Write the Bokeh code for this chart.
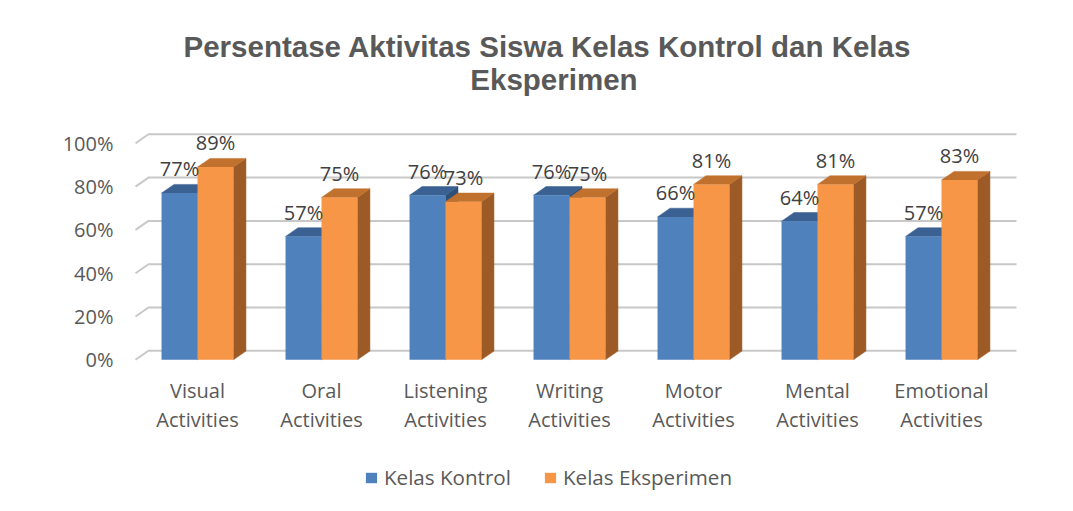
from bokeh.plotting import figure
from bokeh.layouts import column
from bokeh.models import Range1d, FixedTicker, NumeralTickFormatter, Title, Legend, LegendItem
from bokeh.core.properties import value
from bokeh.embed import file_html
from bokeh.resources import INLINE

# ---- data ----
categories = ["Visual Activities", "Oral Activities", "Listening Activities",
              "Writing Activities", "Motor Activities", "Mental Activities",
              "Emotional Activities"]
kontrol = [0.77, 0.57, 0.76, 0.76, 0.66, 0.64, 0.57]
eksperimen = [0.89, 0.75, 0.73, 0.75, 0.81, 0.81, 0.83]
y_ticks = [0.0, 0.2, 0.4, 0.6, 0.8, 1.0]
series_names = ["Kelas Kontrol", "Kelas Eksperimen"]
title_lines = ["Persentase Aktivitas Siswa Kelas Kontrol dan Kelas", "Eksperimen"]

# ---- layout / style constants ----
W, H1, H2 = 1057, 455, 40
PX_X = 124.0      # pixels per category
PX_Y = 216.5      # pixels per 100 %
BW = 0.29         # bar width (category units)
DX = 12.5 / PX_X  # bar depth, horizontal
DY = 8.7 / PX_Y   # bar depth, vertical
WDX = 13.0 / PX_X # back wall offset
WDY = 9.0 / PX_Y
LBL_OFF = 15.5 / PX_Y

ML, MT = 125, 118
FR_R, FR_B = 1030, 362
MR, MB = W - FR_R, H1 - FR_B
frame_w = FR_R - ML
frame_h = FR_B - MT
x0 = (ML - 197) / PX_X
y0 = -(FR_B - 359.3) / PX_Y

FONT = "Open Sans"
AX_COL = "#595959"
BLUE = ("#4f81bd", "#3a6191", "#2f5077")
ORANGE = ("#f79646", "#c0712e", "#9c5a27")

p = figure(width=W, height=H1, output_backend="svg", toolbar_location=None,
           x_range=Range1d(x0, x0 + frame_w / PX_X),
           y_range=Range1d(y0, y0 + frame_h / PX_Y),
           min_border_left=ML, min_border_right=MR,
           min_border_top=MT, min_border_bottom=MB)
p.title.visible = False
p.outline_line_color = None
p.xgrid.visible = False
p.ygrid.visible = False
p.background_fill_color = "white"
p.border_fill_color = "white"

n = len(categories)
idx = list(range(n))

# back-wall gridlines (with slanted floor part at left)
gx = [[-0.5, -0.5 + WDX, (n - 0.5) + WDX] for _ in y_ticks]
gy = [[t, t + WDY, t + WDY] for t in y_ticks]
p.multi_line(gx, gy, line_color="#c8c8c8", line_width=2)

def draw_series(vals, offset, cols):
    front, top, side = cols
    xs_side = [[i + offset + BW, i + offset + BW + DX, i + offset + BW + DX, i + offset + BW] for i in idx]
    ys_side = [[0, DY, v + DY, v] for v in vals]
    p.patches(xs_side, ys_side, fill_color=side, line_color=side, line_width=0.5)
    xs_top = [[i + offset, i + offset + BW, i + offset + BW + DX, i + offset + DX] for i in idx]
    ys_top = [[v, v, v + DY, v + DY] for v in vals]
    p.patches(xs_top, ys_top, fill_color=top, line_color=top, line_width=0.5)
    p.vbar(x=[i + offset + BW / 2 for i in idx], width=BW, top=vals, bottom=0,
           fill_color=front, line_color=None)

draw_series(kontrol, -BW, BLUE)
draw_series(eksperimen, 0.0, ORANGE)

# data labels
for vals, off in ((kontrol, -BW), (eksperimen, 0.0)):
    p.text(x=[i + off + BW / 2 for i in idx], y=[v + DY + LBL_OFF for v in vals],
           text=[f"{round(v * 100)}%" for v in vals],
           text_align="center", text_baseline="middle",
           text_font=value(FONT), text_font_size="20px", text_color="#404040")

# axes
p.yaxis.ticker = FixedTicker(ticks=y_ticks)
p.yaxis.formatter = NumeralTickFormatter(format="0%")
p.xaxis.ticker = FixedTicker(ticks=idx)
p.xaxis.major_label_overrides = {i: c.replace(" ", "\n") for i, c in enumerate(categories)}
for ax in (p.xaxis[0], p.yaxis[0]):
    ax.axis_line_color = None
    ax.major_tick_line_color = None
    ax.minor_tick_line_color = None
    ax.major_tick_out = 0
    ax.major_tick_in = 0
    ax.minor_tick_out = 0
    ax.major_label_text_font = FONT
    ax.major_label_text_font_size = "20px"
    ax.major_label_text_color = AX_COL
p.yaxis.major_label_standoff = 12
p.xaxis.major_label_standoff = 14
p.xaxis.major_label_text_line_height = 1.1

# title: two lines in one box; second line centred with non-breaking spaces
title_text = title_lines[0] + "\n" + "\u00a0" * 35 + title_lines[1]
p.add_layout(Title(text=title_text, align="left", offset=183 - ML, standoff=46,
                   text_line_height=1.0,
                   text_font="Liberation Sans", text_font_style="bold",
                   text_font_size="29.5px", text_color=AX_COL), "above")

# legend strip (separate small canvas below the chart)
q = figure(width=W, height=H2, output_backend="svg", toolbar_location=None,
           x_range=Range1d(0, 1), y_range=Range1d(0, 1),
           x_axis_location=None, y_axis_location=None, min_border=0)
q.title.visible = False
q.outline_line_color = None
q.xgrid.visible = False
q.ygrid.visible = False
sw_k = q.vbar(x=[0.5], width=0.0, top=[0.0], fill_color=BLUE[0], line_color=None)
sw_e = q.vbar(x=[0.5], width=0.0, top=[0.0], fill_color=ORANGE[0], line_color=None)
legend = Legend(items=[LegendItem(label=series_names[0], renderers=[sw_k]),
                       LegendItem(label=series_names[1], renderers=[sw_e])],
                orientation="horizontal", location=(239, 4))
legend.glyph_width = 14
legend.glyph_height = 13
legend.label_standoff = 6
legend.spacing = 32
legend.padding = 0
legend.margin = 0
legend.border_line_color = None
legend.background_fill_alpha = 0
legend.label_text_font = FONT
legend.label_text_font_size = "20.6px"
legend.label_text_color = AX_COL
q.add_layout(legend, "center")

open("out.html", "w").write(file_html(column(p, q, spacing=0), INLINE))
